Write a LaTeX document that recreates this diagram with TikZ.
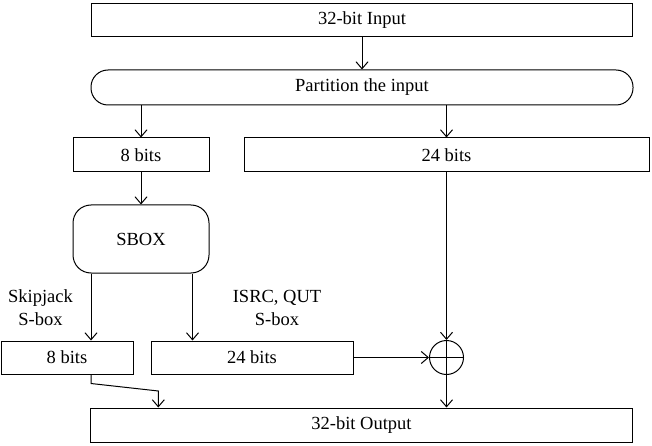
\documentclass[tikz,border=0pt]{standalone}
\usepackage{fontspec}
\setmainfont{Liberation Serif}
\usetikzlibrary{arrows.meta}

\tikzset{
	blk/.style={draw, rectangle, line width=1pt, inner sep=0pt},
	rblk/.style={blk, rounded corners=17pt},
	arr/.style={-{Straight Barb[length=7pt,width=12pt]}, line width=1pt},
}

\begin{document}
\begin{tikzpicture}[x=1pt, y=-1pt, font=\fontsize{18.5}{23}\selectfont]
	\useasboundingbox (0,0) rectangle (652,446);

	\node[blk, minimum width=541pt, minimum height=33pt] (in) at (362,20) {32-bit Input};
	\node[rblk, minimum width=542pt, minimum height=35pt] (part) at (362,87.5) {Partition the input};
	\node[blk, minimum width=136pt, minimum height=34pt] (b8) at (141,155) {8 bits};
	\node[blk, minimum width=405pt, minimum height=34pt] (b24) at (446.5,155) {24 bits};
	\node[blk, rounded corners=18pt, minimum width=136pt, minimum height=68pt] (sbox) at (141,239) {SBOX};
	\node[blk, minimum width=132pt, minimum height=33pt] (skip) at (67,357.5) {8 bits};
	\node[blk, minimum width=202pt, minimum height=33pt] (isrc) at (252,357.5) {24 bits};
	\node[draw, circle, line width=1pt, minimum size=34pt, inner sep=0pt] (xor) at (446.5,357.5) {};
	\node[blk, minimum width=542pt, minimum height=34pt] (out) at (361.5,425) {32-bit Output};

	\node[align=center] (lskip) at (40.5,307.5) {Skipjack\\S-box};
	\node[align=center] (lisrc) at (277,307.5) {ISRC, QUT\\S-box};

	\draw[line width=1pt] (xor.north) -- (xor.south);
	\draw[line width=1pt] (xor.west) -- (xor.east);

	\draw[arr] (in) -- (part);
	\draw[arr] (b8 |- part.south) -- (b8.north);
	\draw[arr] (b24 |- part.south) -- (b24.north);
	\draw[arr] (b8) -- (sbox);
	\draw[arr] ([xshift=-50pt]sbox.south) -- ([xshift=-50pt]sbox.south |- skip.north);
	\draw[arr] ([xshift=51.5pt]sbox.south) -- ([xshift=51.5pt]sbox.south |- isrc.north);
	\draw[arr] (isrc) -- (xor);
	\draw[arr] (b24) -- (xor);
	\draw[arr] (xor) -- (xor |- out.north);

	\coordinate (join) at (158.3,391);
	\draw[arr] ([xshift=24pt]skip.south) -- ++(0,9) -- (join) -- (join |- out.north);
\end{tikzpicture}
\end{document}
